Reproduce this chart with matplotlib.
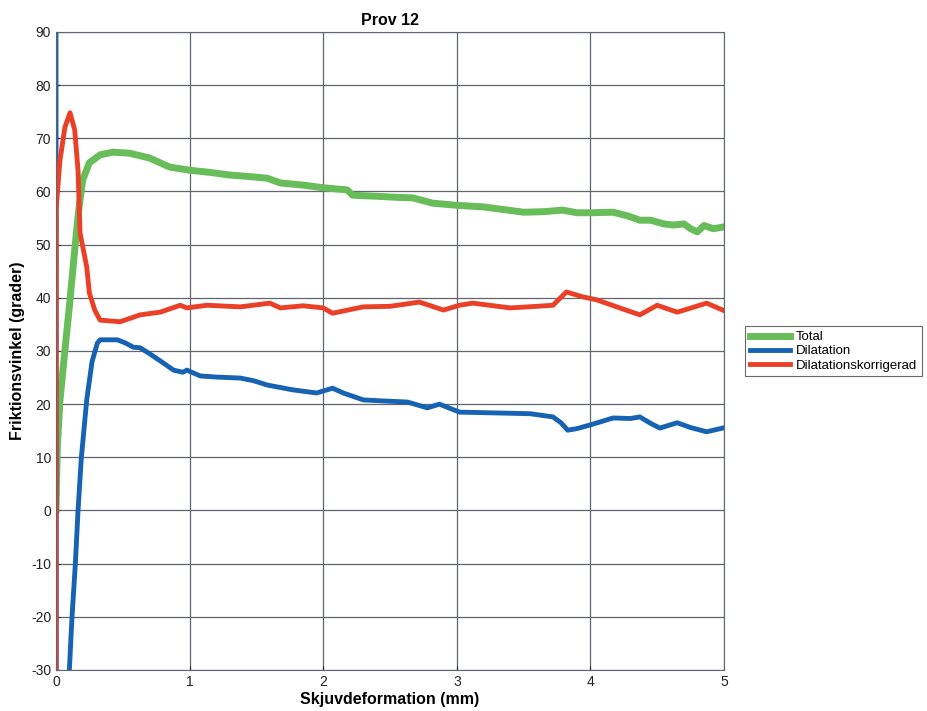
import numpy as np
import matplotlib
matplotlib.use('Agg')
import matplotlib.pyplot as plt

plt.rcParams['font.family'] = ['Liberation Sans', 'DejaVu Sans']
plt.rcParams['axes.unicode_minus'] = False

# Total (green)
x_total = [0.0, 0.01, 0.03, 0.067, 0.105, 0.14, 0.17, 0.2, 0.25, 0.33, 0.43, 0.55, 0.7, 0.85,
           1.0, 1.15, 1.3, 1.45, 1.58, 1.68, 1.85, 2.0, 2.18, 2.22, 2.4, 2.55, 2.67, 2.82,
           3.0, 3.2, 3.35, 3.5, 3.65, 3.79, 3.9, 4.0, 4.17, 4.28, 4.37, 4.45, 4.55, 4.62,
           4.7, 4.75, 4.8, 4.85, 4.92, 4.99]
y_total = [0.0, 12.0, 20.8, 30.2, 39.6, 49.0, 56.5, 62.2, 65.4, 66.9, 67.4, 67.2, 66.3, 64.6,
           64.0, 63.6, 63.1, 62.8, 62.5, 61.6, 61.2, 60.7, 60.3, 59.3, 59.1, 58.9, 58.8, 57.8,
           57.4, 57.1, 56.6, 56.1, 56.2, 56.5, 56.0, 56.0, 56.1, 55.4, 54.6, 54.6, 53.9, 53.7,
           53.9, 53.0, 52.4, 53.6, 53.0, 53.3]

# Dilatation (blue)
x_dil = [0.0, 0.003, 0.10, 0.12, 0.145, 0.165, 0.19, 0.23, 0.27, 0.31, 0.33, 0.46, 0.52,
         0.58, 0.63, 0.7, 0.8, 0.88, 0.95, 0.98, 1.08, 1.2, 1.38, 1.48, 1.58, 1.77, 1.95,
         2.07, 2.15, 2.3, 2.45, 2.63, 2.78, 2.87, 3.02, 3.2, 3.38, 3.55, 3.72, 3.78, 3.83,
         3.9, 4.0, 4.17, 4.3, 4.37, 4.45, 4.52, 4.65, 4.75, 4.87, 4.99]
y_dil = [95.0, -80.0, -30.0, -20.0, -10.0, 0.0, 10.0, 20.8, 28.0, 31.5, 32.1, 32.1, 31.5,
         30.7, 30.6, 29.5, 27.8, 26.4, 26.0, 26.4, 25.3, 25.1, 24.9, 24.4, 23.6, 22.7, 22.1,
         23.0, 22.1, 20.8, 20.6, 20.4, 19.3, 20.0, 18.5, 18.4, 18.3, 18.2, 17.6, 16.5, 15.1,
         15.4, 16.1, 17.4, 17.3, 17.6, 16.4, 15.5, 16.5, 15.6, 14.8, 15.5]

# Dilatationskorrigerad (red)
x_kor = [0.0, 0.002, 0.03, 0.067, 0.105, 0.14, 0.165, 0.18, 0.23, 0.25, 0.29, 0.33, 0.48,
         0.63, 0.78, 0.93, 0.98, 1.13, 1.38, 1.6, 1.68, 1.85, 2.0, 2.07, 2.3, 2.5, 2.72,
         2.9, 3.02, 3.12, 3.4, 3.6, 3.72, 3.82, 3.94, 4.05, 4.22, 4.37, 4.5, 4.58, 4.65,
         4.78, 4.87, 4.99]
y_kor = [-40.0, 57.0, 65.9, 72.1, 74.8, 71.6, 64.0, 52.2, 45.8, 40.9, 37.7, 35.8, 35.5,
         36.8, 37.3, 38.6, 38.1, 38.6, 38.3, 39.0, 38.1, 38.5, 38.1, 37.1, 38.3, 38.4, 39.2,
         37.7, 38.6, 39.0, 38.1, 38.4, 38.6, 41.1, 40.2, 39.6, 38.1, 36.8, 38.6, 37.9, 37.3,
         38.3, 39.0, 37.7]

fig = plt.figure(figsize=(9.27, 7.11), dpi=100)
ax = fig.add_axes([0.0604, 0.0577, 0.7206, 0.8973])

ax.plot(x_total, y_total, color='#68bd5a', lw=5, label='Total')
ax.plot(x_dil, y_dil, color='#1763b3', lw=3.5, label='Dilatation')
ax.plot(x_kor, y_kor, color='#ea4028', lw=3.5, label='Dilatationskorrigerad')

ax.set_xlim(0, 5)
ax.set_ylim(-30, 90)
ax.set_xticks(np.arange(0, 6, 1))
ax.set_yticks(np.arange(-30, 100, 10))
ax.grid(True, color='#61656f', lw=0.9)
ax.tick_params(direction='in', labelsize=10, colors='#222222', length=3)
for sp in ax.spines.values():
    sp.set_color('#61656f')

ax.set_title('Prov 12', fontsize=11.5, fontweight='bold', pad=5)
ax.set_xlabel('Skjuvdeformation (mm)', fontsize=11.5, fontweight='bold', labelpad=2)
ax.set_ylabel('Friktionsvinkel (grader)', fontsize=11.5, fontweight='bold', labelpad=4)

leg = fig.legend(loc='center left', bbox_to_anchor=(0.797, 0.506), fontsize=9.5,
                 fancybox=False, edgecolor='#444444', handlelength=3.0,
                 borderpad=0.35, labelspacing=0.15, handletextpad=0.5)
leg.get_frame().set_linewidth(0.8)

fig.savefig('out.png', dpi=100)
